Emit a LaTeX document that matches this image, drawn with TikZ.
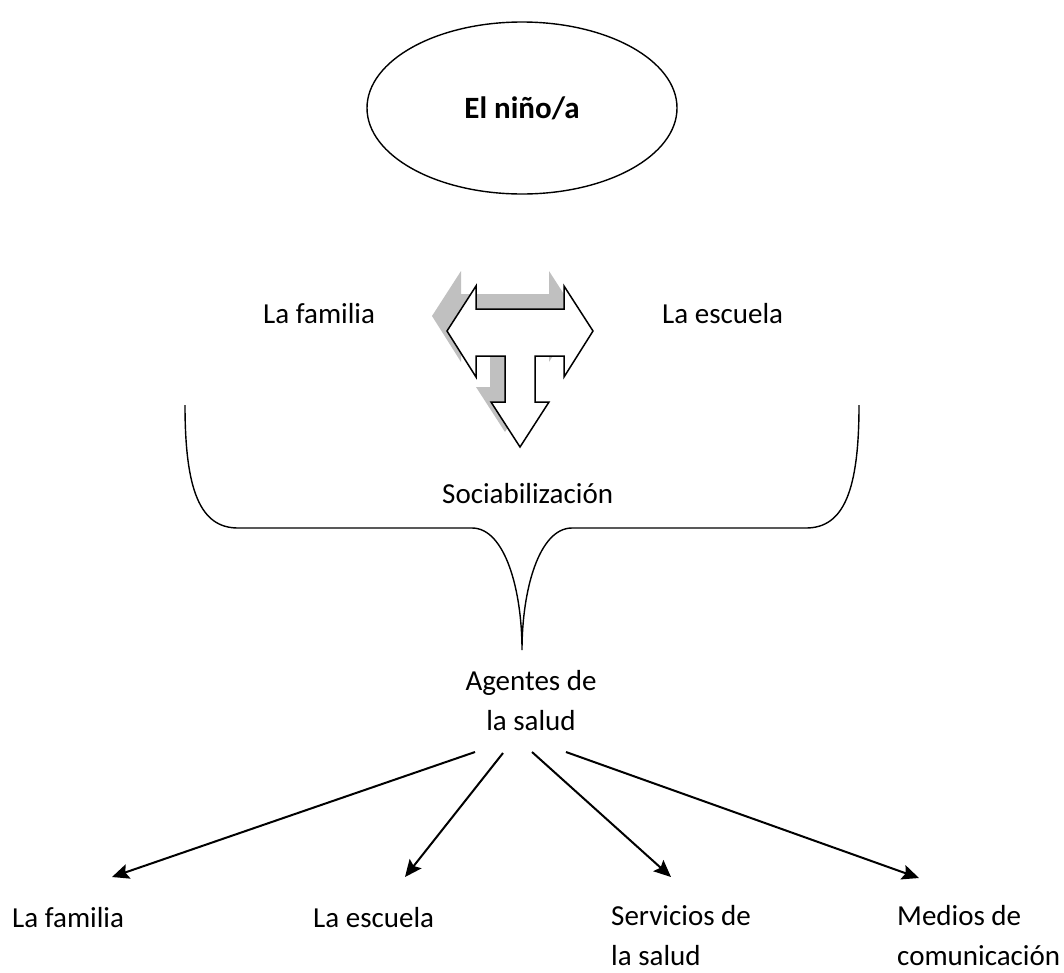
\documentclass[tikz,border=0pt]{standalone}
\usepackage{fontspec}
\setmainfont{Carlito}
\usetikzlibrary{shapes.geometric,arrows.meta}
\definecolor{shadowgray}{RGB}{192,192,192}
\begin{document}
\begin{tikzpicture}[x=1pt,y=-1pt,
  label/.style={inner sep=0pt,font=\fontsize{29}{40}\selectfont},
  bubble/.style={draw,ellipse,line width=1.4pt,minimum width=310pt,minimum height=172pt,
    inner sep=0pt,font=\fontsize{31}{38}\selectfont\bfseries},
  bracket/.style={line width=1.4pt},
  tarrow/.style={draw,fill=white,line width=1.5pt,line join=miter},
  tshadow/.style={fill=shadowgray},
  link/.style={line width=2pt,-{Stealth[length=17pt,width=15pt,inset=3pt]}}]
\useasboundingbox (0,0) rectangle (1064,972);

% central figure
\node[bubble] (nino) at (522,108) {El niño/a};

% the two first agents
\node[label,anchor=base west] (famT) at (263,323) {La familia};
\node[label,anchor=base west] (escT) at (662,323) {La escuela};

% three-way block arrow with its drop shadow
\def\tpath{(447,331) -- (476,286) -- (476,309) -- (564,309) -- (564,286) -- (593,331)
  -- (564,377) -- (564,356) -- (535,356) -- (535,402) -- (549,402) -- (520,447)
  -- (491,402) -- (505,402) -- (505,356) -- (476,356) -- (476,377) -- cycle}
\begin{scope}[shift={(-15,-15)}]
  \path[tshadow] \tpath;
\end{scope}
\path[tarrow] \tpath;

% socialisation
\node[label,anchor=base west] (soc) at (442,503) {Sociabilización};

% large brace gathering everything
\draw[bracket] (185,405) .. controls (185,490) and (200,528) .. (238,528)
  -- (472,528) .. controls (505,528) and (522,590) .. (522,650)
  .. controls (522,590) and (539,528) .. (572,528)
  -- (806,528) .. controls (844,528) and (859,490) .. (859,405);

% health agents
\node[label,anchor=north,align=center] (agentes) at (531,670) {Agentes de\\la salud};

\node[label,anchor=base west] (famB) at (12,927) {La familia};
\node[label,anchor=base west] (escB) at (313,927) {La escuela};
\node[label,anchor=north west,align=left] (serv) at (611,905) {Servicios de\\la salud};
\node[label,anchor=north west,align=left] (medios) at (897,905) {Medios de\\comunicación};

\coordinate (a1) at (475,752);
\coordinate (a2) at (503,753);
\coordinate (a3) at (532,752);
\coordinate (a4) at (566,752);
\coordinate (b1) at (112,877);
\coordinate (b2) at (405,877);
\coordinate (b3) at (671,877);
\coordinate (b4) at (919,878);

\draw[link] (a1) -- (b1);
\draw[link] (a2) -- (b2);
\draw[link] (a3) -- (b3);
\draw[link] (a4) -- (b4);
\end{tikzpicture}
\end{document}
